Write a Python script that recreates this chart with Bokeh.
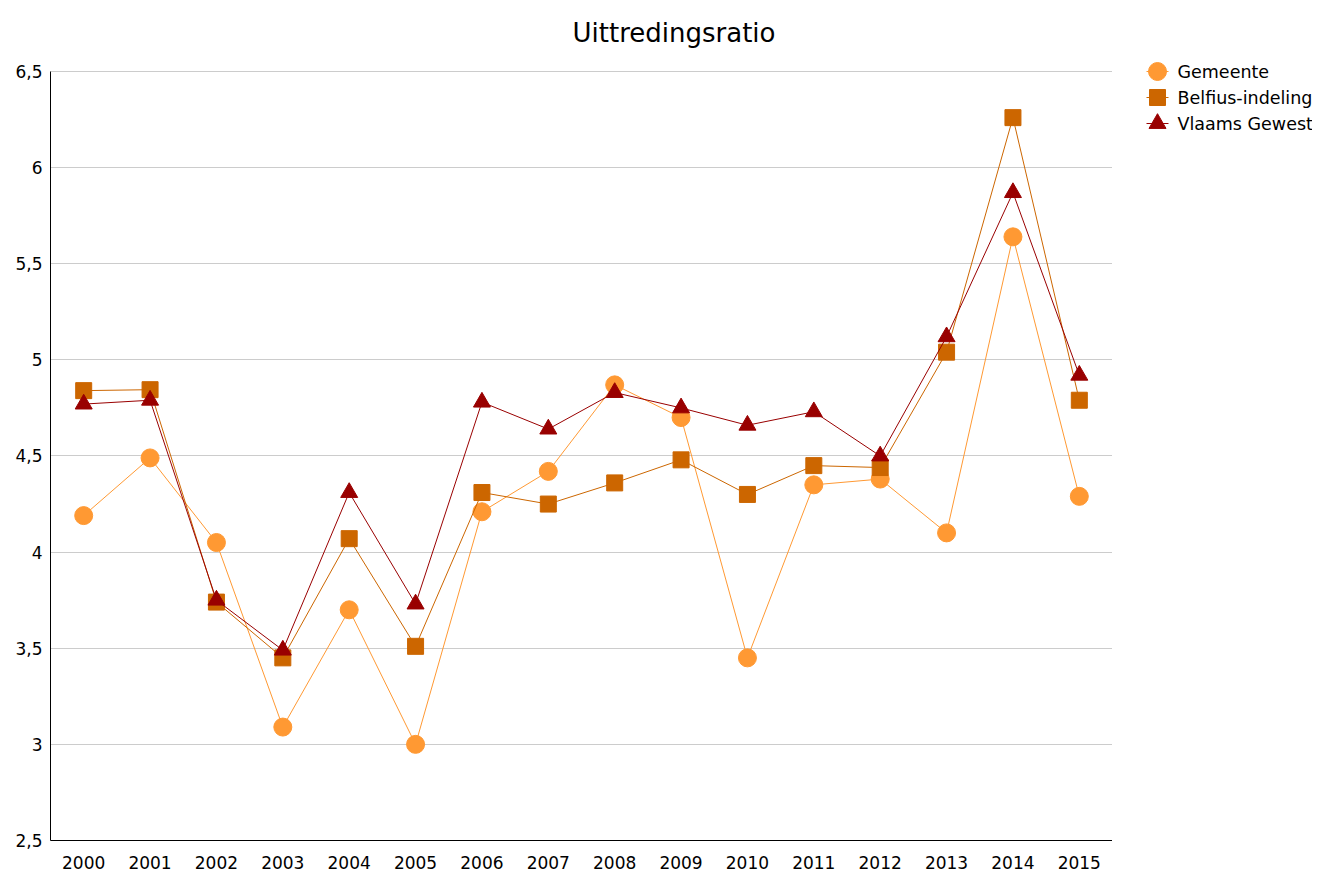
from bokeh.plotting import figure
from bokeh.layouts import row
from bokeh.models import FixedTicker, Range1d
from bokeh.core.properties import value
from bokeh.embed import file_html
from bokeh.resources import INLINE

years = list(range(2000, 2016))
gemeente = [4.19, 4.49, 4.05, 3.09, 3.70, 3.00, 4.21, 4.42, 4.87, 4.70, 3.45, 4.35, 4.38, 4.10, 5.64, 4.29]
belfius = [4.84, 4.845, 3.74, 3.45, 4.07, 3.51, 4.31, 4.25, 4.36, 4.48, 4.30, 4.45, 4.44, 5.04, 6.26, 4.79]
vlaams = [4.77, 4.79, 3.75, 3.49, 4.31, 3.73, 4.78, 4.64, 4.83, 4.75, 4.66, 4.73, 4.50, 5.12, 5.87, 4.92]
series_names = ["Gemeente", "Belfius-indeling", "Vlaams Gewest"]
y_ticks = [2.5, 3, 3.5, 4, 4.5, 5, 5.5, 6, 6.5]
y_tick_labels = ["2,5", "3", "3,5", "4", "4,5", "5", "5,5", "6", "6,5"]

FONT = "DejaVu Sans"
colors = ["#FF9933", "#CC6600", "#990000"]
markers = ["circle", "square", "triangle"]
msizes = [18, 16, 17]

TOP, FH, BOTTOM = 61, 779, 34

p = figure(frame_width=1062, frame_height=FH, output_backend="svg", toolbar_location=None,
           x_range=Range1d(1999.5, 2015.5), y_range=Range1d(2.5, 6.552),
           min_border_left=50, min_border_right=0, min_border_top=TOP, min_border_bottom=BOTTOM)
p.outline_line_color = None
p.background_fill_color = "white"

p.title.text = "Uittredingsratio"
p.title.text_font = FONT
p.title.text_font_size = "26px"
p.title.text_font_style = "normal"
p.title.text_color = "black"
p.title.align = "left"
p.title.offset = 522
p.title.standoff = 27

p.xgrid.grid_line_color = None
p.ygrid.grid_line_color = "#cccccc"
p.ygrid.ticker = FixedTicker(ticks=y_ticks)

p.xaxis.ticker = FixedTicker(ticks=years)
p.yaxis.ticker = FixedTicker(ticks=y_ticks)
p.yaxis.bounds = (y_ticks[0], y_ticks[-1])
p.yaxis.major_label_overrides = {t: l for t, l in zip(y_ticks, y_tick_labels)}
for ax in (p.xaxis, p.yaxis):
    ax.axis_line_color = "black"
    ax.axis_line_width = 1
    ax.major_tick_line_color = None
    ax.minor_tick_line_color = None
    ax.major_label_text_font = FONT
    ax.major_label_text_font_size = "17px"
    ax.major_label_text_color = "black"
p.xaxis.major_label_standoff = 9
p.yaxis.major_label_standoff = 2

for vals, c, m, s in zip([gemeente, belfius, vlaams], colors, markers, msizes):
    p.line(years, vals, line_color=c, line_width=1)
    p.scatter(years, vals, marker=m, size=s, fill_color=c, line_color=c)

# legend panel to the right of the plot (coordinates = page pixels)
lg = figure(frame_width=200, frame_height=FH, output_backend="svg", toolbar_location=None,
            x_range=Range1d(1112, 1312), y_range=Range1d(TOP + FH, TOP),
            min_border_left=0, min_border_right=0, min_border_top=TOP, min_border_bottom=BOTTOM)
lg.axis.visible = False
lg.grid.visible = False
lg.outline_line_color = None

row_y = [71 + 26 * i for i in range(len(series_names))]
lg.segment(x0=1146, x1=1168, y0=row_y, y1=row_y, line_color=colors, line_width=1)
for i in range(len(series_names)):
    lg.scatter([1157], [row_y[i]], marker=markers[i], size=msizes[i],
               fill_color=colors[i], line_color=colors[i])
lg.text(x=[1177] * len(series_names), y=row_y, text=series_names,
        text_font=value(FONT), text_font_size="17.5px", text_color="black",
        text_align="left", text_baseline="middle")

layout = row(p, lg, spacing=0)
open("out.html", "w").write(file_html(layout, INLINE))
